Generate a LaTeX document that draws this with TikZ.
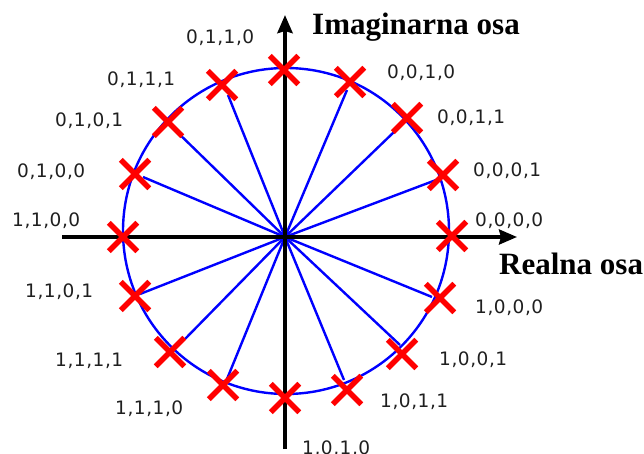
\documentclass[tikz,border=0pt]{standalone}
\usepackage{fontspec}
\setmainfont{Liberation Serif}
\newfontfamily\lblfont[LetterSpace=3]{DejaVu Sans}
\usetikzlibrary{arrows.meta,shapes.misc}
\begin{document}
\begin{tikzpicture}[x=1pt,y=-1pt,
  axis/.style={line width=4pt,-{Stealth[length=18pt,width=15pt,inset=2pt]}},
  spoke/.style={blue,line width=2.4pt},
  mk/.style={cross out,draw=red,line width=5.5pt,minimum size=23pt,inner sep=0pt},
  lbl/.style={font=\lblfont\fontsize{18.5}{22}\selectfont,text=black!88,inner sep=0pt,anchor=base west},
  ttl/.style={font=\bfseries\fontsize{31}{36}\selectfont,inner sep=0pt,anchor=base west}]
\useasboundingbox (0,0) rectangle (644,454);
\coordinate (O) at (285,237);
% line ends
\coordinate (e0111) at (228,95);
\coordinate (e0101) at (172,127);
\coordinate (e0100) at (143,177);
\coordinate (e1101) at (140,294);
\coordinate (e1111) at (185,339);
\coordinate (e1110) at (227,379);
\coordinate (e1011) at (344,380);
\coordinate (e1001) at (400,345);
\coordinate (e1000) at (432,297);
\coordinate (e0001) at (444,177);
\coordinate (e0011) at (394,132);
\coordinate (e0010) at (347,90);
\draw[spoke] (286,231) circle (163pt);
\foreach \e in {e0111,e0101,e0100,e1101,e1111,e1110,e1011,e1001,e1000,e0001,e0011,e0010}
  \draw[spoke] (O) -- (\e);
% axes
\coordinate (vb) at (285,449);
\coordinate (vt) at (285,15);
\coordinate (hl) at (62,237);
\coordinate (hr) at (517,237);
\draw[axis] (vb) -- (vt);
\draw[axis,line width=3.5pt] (hl) -- (hr);
% markers
\node[mk] (m0110) at (284,70) {};
\node[mk] (m0111) at (222,85) {};
\node[mk] (m0101) at (168,122) {};
\node[mk] (m0100) at (135,174) {};
\node[mk] (m1100) at (123,237) {};
\node[mk] (m1101) at (135,296) {};
\node[mk] (m1111) at (170,352) {};
\node[mk] (m1110) at (223,385) {};
\node[mk] (m1010) at (285,398) {};
\node[mk] (m1011) at (347,390) {};
\node[mk] (m1001) at (402,354) {};
\node[mk] (m1000) at (440,298) {};
\node[mk] (m0000) at (452,236) {};
\node[mk] (m0001) at (443,175) {};
\node[mk] (m0011) at (407,118) {};
\node[mk] (m0010) at (350,82) {};
% labels
\node[lbl] (l0110) at (186,44) {0,1,1,0};
\node[lbl] (l0111) at (107,86) {0,1,1,1};
\node[lbl] (l0101) at (55,127) {0,1,0,1};
\node[lbl] (l0100) at (17,178) {0,1,0,0};
\node[lbl] (l1100) at (12,226) {1,1,0,0};
\node[lbl] (l1101) at (25,297) {1,1,0,1};
\node[lbl] (l1111) at (55,366) {1,1,1,1};
\node[lbl] (l1110) at (115,414) {1,1,1,0};
\node[lbl] (l1010) at (302,454) {1,0,1,0};
\node[lbl] (l1011) at (380,407) {1,0,1,1};
\node[lbl] (l1001) at (439,365) {1,0,0,1};
\node[lbl] (l1000) at (475,313) {1,0,0,0};
\node[lbl] (l0000) at (475,226) {0,0,0,0};
\node[lbl] (l0001) at (473,177) {0,0,0,1};
\node[lbl] (l0011) at (437,124) {0,0,1,1};
\node[lbl] (l0010) at (387,79) {0,0,1,0};
\node[ttl] (ti) at (312,35) {Imaginarna osa};
\node[ttl] (tr) at (499,274) {Realna osa};
\end{tikzpicture}
\end{document}
